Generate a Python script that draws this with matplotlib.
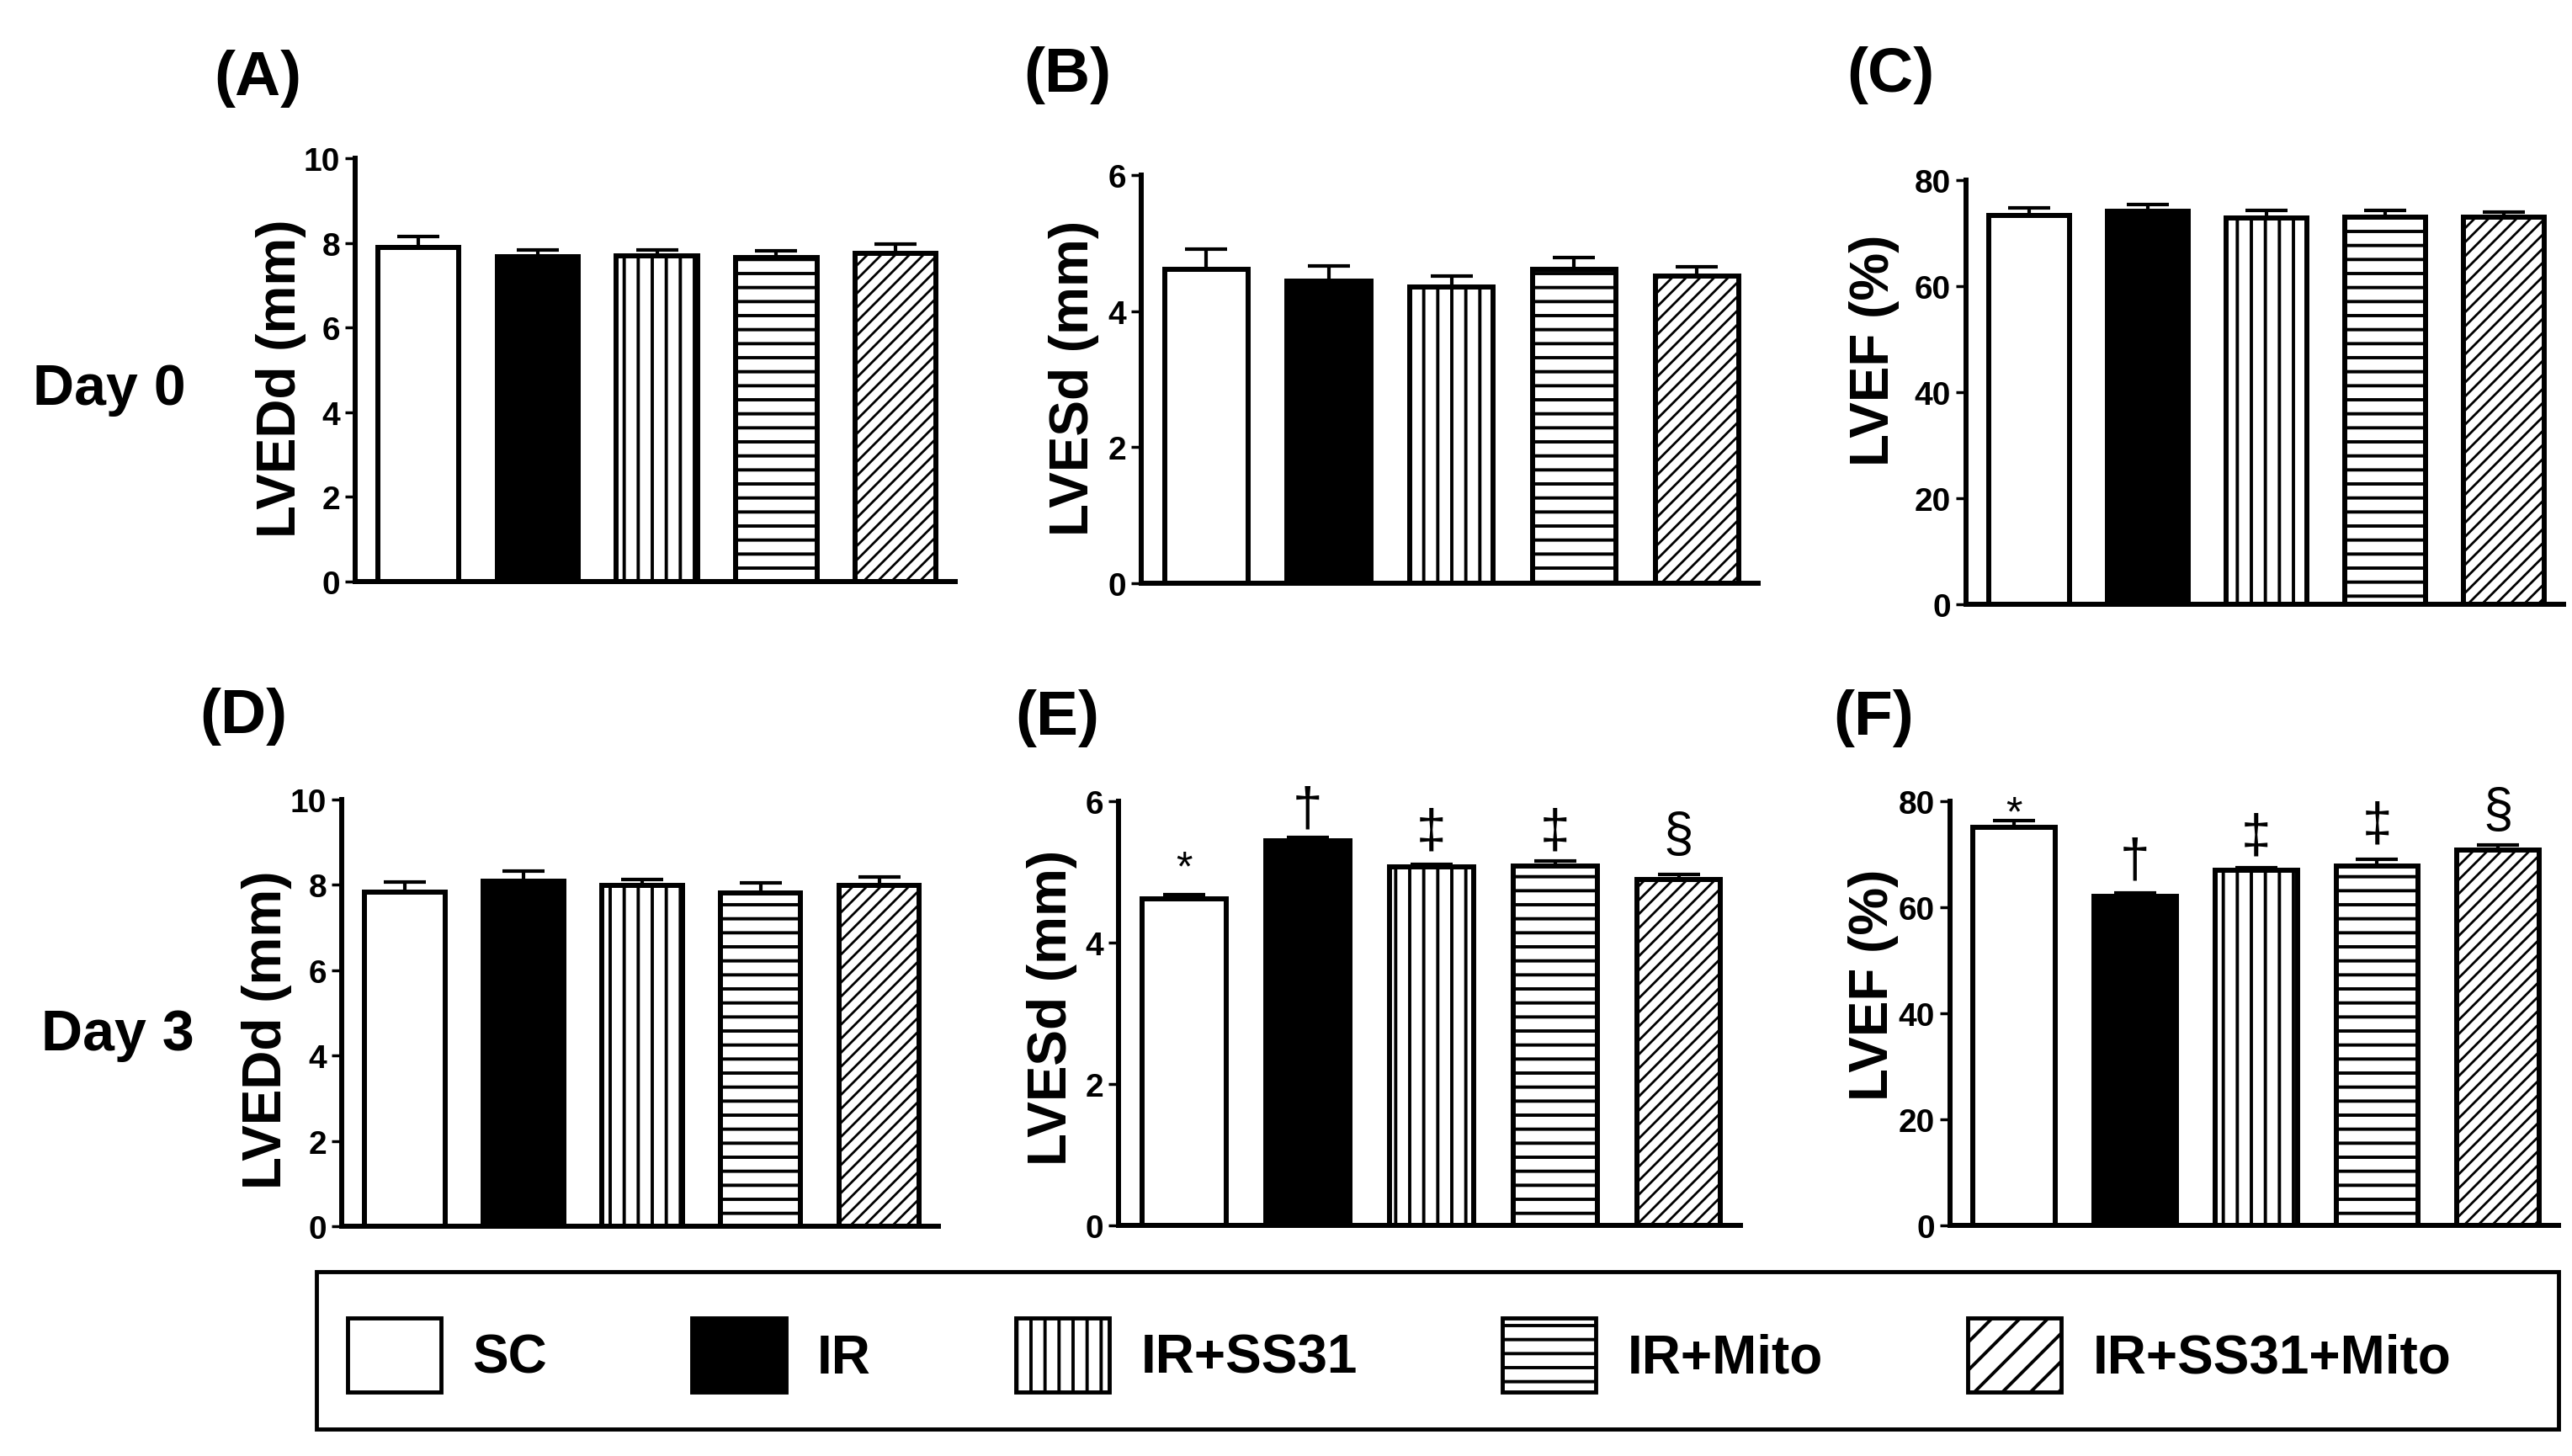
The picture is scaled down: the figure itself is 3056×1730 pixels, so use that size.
import matplotlib
matplotlib.use("Agg")
import matplotlib.pyplot as plt
from matplotlib.patches import Rectangle, Patch

plt.rcParams['font.family'] = ['Liberation Sans', 'DejaVu Sans']
plt.rcParams['font.weight'] = 'bold'
plt.rcParams['hatch.linewidth'] = 2.8
plt.rcParams['hatch.color'] = 'black'

# groups
groups = ["SC", "IR", "IR+SS31", "IR+Mito", "IR+SS31+Mito"]
hatches = [None, None, '|', '-', '//']
legend_hatches = [None, None, '|', '-', '/']
faces = ['white', 'black', 'white', 'white', 'white']

# Day 0
lvedd_d0 = [7.89, 7.67, 7.70, 7.66, 7.76]
lvedd_d0_err = [0.26, 0.16, 0.14, 0.15, 0.22]
lvesd_d0 = [4.62, 4.44, 4.35, 4.61, 4.52]
lvesd_d0_err = [0.29, 0.22, 0.17, 0.18, 0.13]
lvef_d0 = [73.3, 74.2, 72.8, 73.0, 73.0]
lvef_d0_err = [1.5, 1.2, 1.5, 1.3, 0.9]

# Day 3
lvedd_d3 = [7.83, 8.08, 7.98, 7.82, 7.98]
lvedd_d3_err = [0.23, 0.24, 0.14, 0.23, 0.21]
lvesd_d3 = [4.62, 5.44, 5.07, 5.08, 4.89]
lvesd_d3_err = [0.06, 0.05, 0.04, 0.07, 0.07]
lvef_d3 = [75.1, 62.0, 67.0, 67.8, 70.8]
lvef_d3_err = [1.2, 0.7, 0.5, 1.3, 0.9]

# significance marks and where they sit
sig_marks = ['*', '\u2020', '\u2021', '\u2021', '\u00a7']
lvesd_d3_sig_y = [5.17, 5.88, 5.57, 5.57, 5.51]
lvef_d3_sig_y = [79.4, 68.6, 73.2, 75.4, 78.1]

W, H = 3056, 1731
fig = plt.figure(figsize=(W / 100, H / 100), dpi=100)


def add_ax(left, right, top, bottom):
    return fig.add_axes([left / W, 1 - bottom / H, (right - left) / W, (bottom - top) / H])


def bar_panel(ax, means, errs, ymax, step):
    x = range(len(means))
    bars = ax.bar(x, means, width=0.68, color=faces, edgecolor='black',
                  linewidth=4.3, hatch=hatches, zorder=2)
    # thinner lines for the dense diagonal hatch
    if hasattr(bars[4], 'set_hatch_linewidth'):
        bars[4].set_hatch_linewidth(2.0)
    ax.errorbar(x, means, yerr=[[0] * len(errs), errs], fmt='none',
                ecolor='black', elinewidth=3, capsize=18, capthick=3, zorder=3)
    ax.set_xlim(-0.53, 4.5)
    ax.set_ylim(0, ymax)
    ax.set_yticks(range(0, ymax + 1, step))
    ax.set_xticks([])
    for s in ['top', 'right']:
        ax.spines[s].set_visible(False)
    for s in ['left', 'bottom']:
        ax.spines[s].set_linewidth(4.3)
    ax.tick_params(axis='y', direction='out', length=9, width=2.5, pad=4,
                   labelsize=28)


panels = [
    (lvedd_d0, lvedd_d0_err, 10, 2, (422, 1135, 189, 692), "(A)", (306, 93), "LVEDd (mm)", (334, 450)),
    (lvesd_d0, lvesd_d0_err, 6, 2, (1356, 2089, 209, 694), "(B)", (1268, 90), "LVESd (mm)", (1276, 449)),
    (lvef_d0, lvef_d0_err, 80, 20, (2336, 3046, 215, 719), "(C)", (2246, 90), "LVEF (%)", (2227, 416)),
    (lvedd_d3, lvedd_d3_err, 10, 2, (406, 1115, 951, 1458), "(D)", (289, 852), "LVEDd (mm)", (317, 1224)),
    (lvesd_d3, lvesd_d3_err, 6, 2, (1329, 2068, 953, 1457), "(E)", (1256, 854), "LVESd (mm)", (1250, 1197)),
    (lvef_d3, lvef_d3_err, 80, 20, (2317, 3040, 953, 1457), "(F)", (2226, 854), "LVEF (%)", (2226, 1170)),
]

axes = []
for means, errs, ymax, step, box, tag, tagpos, ylab, ylabpos in panels:
    ax = add_ax(*box)
    bar_panel(ax, means, errs, ymax, step)
    fig.text(tagpos[0] / W, 1 - tagpos[1] / H, tag, fontsize=54,
             ha='center', va='center')
    fig.text(ylabpos[0] / W, 1 - ylabpos[1] / H, ylab, fontsize=46,
             rotation=90, ha='center', va='center')
    axes.append(ax)

# significance symbols
for ax, ys in [(axes[4], lvesd_d3_sig_y), (axes[5], lvef_d3_sig_y)]:
    for i, (m, y) in enumerate(zip(sig_marks, ys)):
        star = m == '*'
        ax.annotate(m, xy=(i, y), xytext=(0, -8 if star else 0),
                    textcoords='offset points', ha='center', va='center',
                    fontsize=36 if star else 46, fontweight='normal',
                    annotation_clip=False, zorder=4)

fig.text(130 / W, 1 - 463 / H, "Day 0", fontsize=49, ha='center', va='center')
fig.text(140 / W, 1 - 1230 / H, "Day 3", fontsize=49, ha='center', va='center')

# legend box
fig.patches.append(Rectangle((376 / W, 1 - 1699 / H), (3040 - 376) / W, (1699 - 1512) / H,
                             transform=fig.transFigure, fill=False,
                             edgecolor='black', linewidth=3.5))
handles = [Patch(facecolor=f, edgecolor='black', hatch=h, linewidth=3.5)
           for f, h in zip(faces, legend_hatches)]
fig.legend(handles, groups, loc='center left',
           bbox_to_anchor=(413 / W, 1 - 1611 / H), ncol=5, frameon=False,
           fontsize=46, handlelength=1.74, handleheight=1.75,
           handletextpad=0.58, columnspacing=2.7, borderpad=0,
           borderaxespad=0)

fig.savefig("out.png", dpi=100)
